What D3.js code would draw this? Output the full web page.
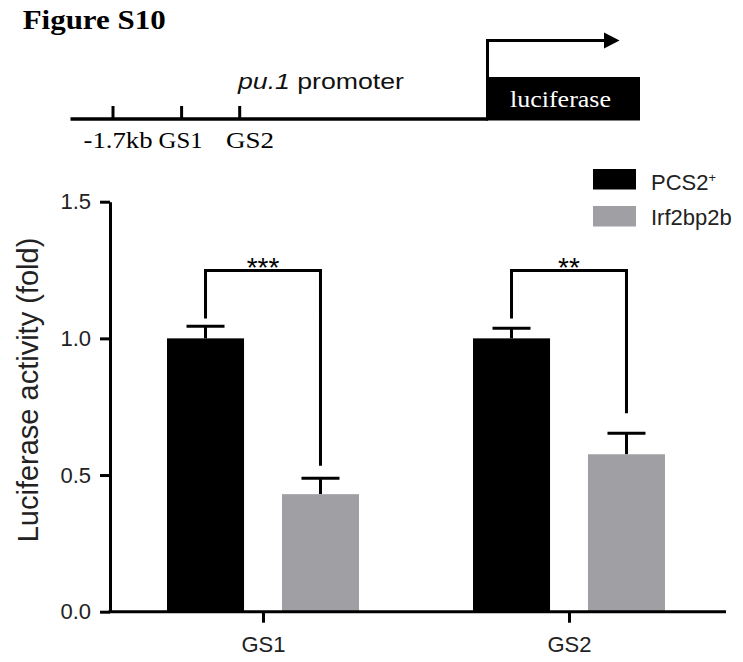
<!DOCTYPE html>
<html>
<head>
<meta charset="utf-8">
<script src="https://cdn.jsdelivr.net/npm/d3@7"></script>
<style>
  html, body { margin: 0; padding: 0; background: #fff; }
  svg { display: block; }
</style>
</head>
<body>
<svg id="chart" width="743" height="662"></svg>
<script>
// ---- data ----
const categories = ["GS1", "GS2"];
const seriesNames = ["PCS2+", "Irf2bp2b"];
const pcs2Values = [1.00, 1.00];
const pcs2Errors = [0.044, 0.037];
const irf2bp2bValues = [0.43, 0.576];
const irf2bp2bErrors = [0.058, 0.077];
const yTicks = [0.0, 0.5, 1.0, 1.5];
const sigLabels = ["***", "**"];
const bracketTop = [1.248, 1.248];
const bracketLeftEnd = [1.073, 1.073];
const bracketRightEnd = [0.534, 0.726];
const seriesColors = ["#000000", "#a0a0a4"];

// promoter diagram
const promoterSites = ["-1.7kb", "GS1", "GS2"];
const promoterSitePos = [113, 181.6, 239.7];
const promoterLabelPos = [118, 180.6, 250];
const promoterLabelWidth = [69, 44, 48];

const svg = d3.select("#chart");
const sans = "'Liberation Sans', Arial, Helvetica, sans-serif";
const serif = "'Liberation Serif', 'Times New Roman', serif";

// ---- title ----
svg.append("text")
  .attr("x", 22.7).attr("y", 29.3)
  .attr("font-family", serif).attr("font-weight", "bold")
  .attr("font-size", 27)
  .attr("textLength", 143).attr("lengthAdjust", "spacingAndGlyphs")
  .text("Figure S10");

// ---- promoter diagram ----
const dg = svg.append("g");
const lineY = 119;
dg.append("line").attr("x1", 70.5).attr("x2", 488).attr("y1", lineY).attr("y2", lineY)
  .attr("stroke", "#000").attr("stroke-width", 3.5);
dg.selectAll("line.site").data(promoterSitePos).join("line").attr("class", "site")
  .attr("x1", d => d).attr("x2", d => d).attr("y1", lineY - 13).attr("y2", lineY)
  .attr("stroke", "#000").attr("stroke-width", 3);
dg.selectAll("text.site").data(promoterSites).join("text").attr("class", "site")
  .attr("x", (d, i) => promoterLabelPos[i] - promoterLabelWidth[i] / 2).attr("y", 148)
  .attr("font-family", serif).attr("font-size", 23)
  .attr("textLength", (d, i) => promoterLabelWidth[i]).attr("lengthAdjust", "spacingAndGlyphs")
  .text(d => d);
// luciferase box
dg.append("rect").attr("x", 486).attr("y", 77).attr("width", 154).attr("height", 43.5).attr("fill", "#000");
dg.append("text").attr("x", 510).attr("y", 107)
  .attr("fill", "#fff")
  .attr("font-family", serif).attr("font-size", 23)
  .attr("textLength", 101).attr("lengthAdjust", "spacingAndGlyphs")
  .text("luciferase");
// arrow
dg.append("path").attr("d", "M487.5,78 V40.5 H606")
  .attr("fill", "none").attr("stroke", "#000").attr("stroke-width", 3);
dg.append("path").attr("d", "M604,32.5 L619.5,40.5 L604,48.5 Z").attr("fill", "#000");
// promoter label
const pt = dg.append("text").attr("x", 238).attr("y", 89)
  .attr("font-family", sans).attr("font-size", 22).attr("fill", "#111")
  .attr("textLength", 166).attr("lengthAdjust", "spacingAndGlyphs");
pt.append("tspan").attr("font-style", "italic").text("pu.1");
pt.append("tspan").text(" promoter");

// ---- bar chart ----
const xLeft = 110, xRight = 726, yTop = 201.7, yBottom = 611.7;
const y = d3.scaleLinear().domain([0, 1.5]).range([yBottom, yTop]);
const x0 = d3.scalePoint().domain(categories).range([110, 722]).padding(0.5);
const x1 = d3.scaleBand().domain(seriesNames).range([-96, 96]).paddingInner(0.33).paddingOuter(0);

const data = categories.map((c, i) => ({
  cat: c,
  vals: [
    { s: seriesNames[0], v: pcs2Values[i], e: pcs2Errors[i], color: seriesColors[0] },
    { s: seriesNames[1], v: irf2bp2bValues[i], e: irf2bp2bErrors[i], color: seriesColors[1] }
  ]
}));

const g = svg.append("g");
const groups = g.selectAll("g.grp").data(data).join("g").attr("class", "grp")
  .attr("transform", d => `translate(${x0(d.cat)},0)`);

// error bars
groups.selectAll("line.stem").data(d => d.vals).join("line").attr("class", "stem")
  .attr("x1", d => x1(d.s) + x1.bandwidth() / 2).attr("x2", d => x1(d.s) + x1.bandwidth() / 2)
  .attr("y1", d => y(d.v)).attr("y2", d => y(d.v + d.e))
  .attr("stroke", "#000").attr("stroke-width", 3);
groups.selectAll("line.cap").data(d => d.vals).join("line").attr("class", "cap")
  .attr("x1", d => x1(d.s) + x1.bandwidth() / 2 - 19).attr("x2", d => x1(d.s) + x1.bandwidth() / 2 + 19)
  .attr("y1", d => y(d.v + d.e)).attr("y2", d => y(d.v + d.e))
  .attr("stroke", "#000").attr("stroke-width", 3);
groups.selectAll("rect").data(d => d.vals).join("rect")
  .attr("x", d => x1(d.s)).attr("width", x1.bandwidth())
  .attr("y", d => y(d.v)).attr("height", d => y(0) - y(d.v))
  .attr("fill", d => d.color);

// significance brackets
groups.append("path")
  .attr("d", (d, i) => {
    const xl = x1(seriesNames[0]) + x1.bandwidth() / 2;
    const xr = x1(seriesNames[1]) + x1.bandwidth() / 2;
    return `M${xl},${y(bracketLeftEnd[i])} V${y(bracketTop[i])} H${xr} V${y(bracketRightEnd[i])}`;
  })
  .attr("fill", "none").attr("stroke", "#000").attr("stroke-width", 3);
groups.append("text")
  .attr("x", 0).attr("y", (d, i) => y(bracketTop[i]) + 6)
  .attr("text-anchor", "middle")
  .attr("font-family", sans).attr("font-size", 28)
  .text((d, i) => sigLabels[i]);

// y axis
const yAxis = g.append("g").attr("transform", `translate(${xLeft},0)`)
  .call(d3.axisLeft(y).tickValues(yTicks).tickFormat(d3.format(".1f")).tickSize(10).tickSizeOuter(0).tickPadding(9));
yAxis.select(".domain").attr("stroke-width", 3);
yAxis.selectAll(".tick line").attr("stroke-width", 3);
yAxis.selectAll("text").attr("font-family", sans).attr("font-size", 22).attr("fill", "#222");

// x axis
const xAxis = g.append("g").attr("transform", `translate(0,${yBottom})`)
  .call(d3.axisBottom(x0).tickSize(11).tickSizeOuter(0).tickPadding(14));
xAxis.select(".domain").attr("d", `M${xLeft - 1.5},0H${xRight}`).attr("stroke-width", 3);
xAxis.selectAll(".tick line").attr("stroke-width", 3);
xAxis.selectAll("text").attr("font-family", sans).attr("font-size", 22).attr("fill", "#222");

// y label
svg.append("text")
  .attr("transform", "translate(37.5,390) rotate(-90)")
  .attr("text-anchor", "middle")
  .attr("font-family", sans).attr("font-size", 29).attr("fill", "#222")
  .text("Luciferase activity (fold)");

// legend
const lg = svg.append("g");
const legendRows = seriesNames.map((s, i) => ({ s, color: seriesColors[i], i }));
lg.selectAll("rect").data(legendRows).join("rect")
  .attr("x", 593).attr("y", d => 169 + d.i * 37)
  .attr("width", 43).attr("height", 20.5)
  .attr("fill", d => d.color);
const lt = lg.selectAll("text").data(legendRows).join("text")
  .attr("x", 651).attr("y", d => 189.5 + d.i * 35.5)
  .attr("font-family", sans).attr("font-size", 22).attr("fill", "#222");
lt.each(function(d) {
  const t = d3.select(this);
  if (d.s.endsWith("+")) {
    t.append("tspan").text(d.s.slice(0, -1));
    t.append("tspan").attr("font-size", 13).attr("dy", -8).text("+");
  } else {
    t.text(d.s);
  }
});
</script>
</body>
</html>
